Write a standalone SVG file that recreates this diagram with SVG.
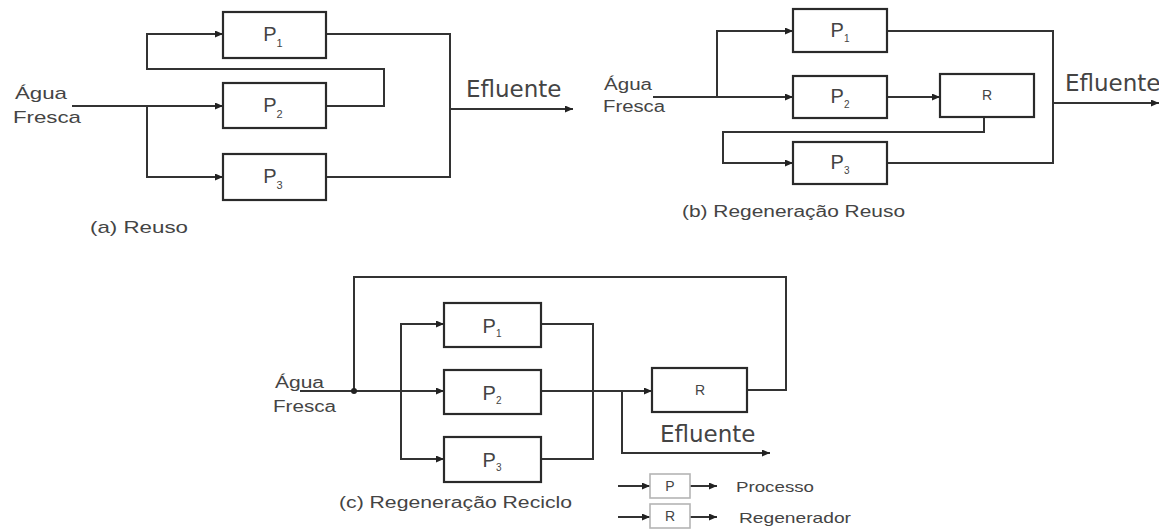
<svg xmlns="http://www.w3.org/2000/svg" width="1159" height="529" viewBox="0 0 1159 529">
<style>
.bg{fill:#fff}
.box{fill:#fff;stroke:#2a2a2a;stroke-width:2.2}
.lbox{fill:#fff;stroke:#b5b5b5;stroke-width:1.6}
.ln{fill:none;stroke:#333;stroke-width:2}
.ar{marker-end:url(#ah)}
.t{font-family:"Liberation Sans",Arial,sans-serif;fill:#444}
.ef{font-family:"DejaVu Sans",Verdana,sans-serif;font-size:23px;fill:#444}
.p{font-family:"Liberation Sans",Arial,sans-serif;font-size:20px;fill:#444;text-anchor:middle}
.r{font-family:"Liberation Sans",Arial,sans-serif;font-size:14px;fill:#444;text-anchor:middle}
</style>
<defs>
<marker id="ah" markerUnits="userSpaceOnUse" markerWidth="9" markerHeight="8" refX="8" refY="3.5" orient="auto">
<path d="M0,0 L8,3.5 L0,7 z" fill="#222"/>
</marker>
</defs>
<rect class="bg" x="0" y="0" width="1159" height="529"/>

<g id="connectors">
<!-- (a) -->
<path class="ln ar" d="M72,106 H223"/>
<path class="ln ar" d="M147,106 V177 H223"/>
<path class="ln ar" d="M326,106 H384 V69 H147 V34 H223"/>
<path class="ln" d="M326,34 H450 V177 H326"/>
<path class="ln ar" d="M450,109 H573"/>
<!-- (b) -->
<path class="ln ar" d="M653,97 H793"/>
<path class="ln ar" d="M717,97 V31 H793"/>
<path class="ln ar" d="M887,97 H940"/>
<path class="ln ar" d="M984,117 V132 H723 V163 H793"/>
<path class="ln" d="M887,31 H1053 V163 H887"/>
<path class="ln ar" d="M1053,103 H1159"/>
<!-- (c) -->
<path class="ln ar" d="M300,391 H444"/>
<path class="ln" d="M747,390 H786 V277 H354 V391"/>
<circle cx="354" cy="391" r="3" fill="#222"/>
<path class="ln ar" d="M401,391 V324 H444"/>
<path class="ln ar" d="M401,391 V459 H444"/>
<path class="ln" d="M541,324 H593 V459 H541"/>
<path class="ln ar" d="M541,391 H652"/>
<path class="ln ar" d="M622,391 V453 H770"/>
<!-- legend -->
<path class="ln ar" d="M618,486 H650"/>
<path class="ln ar" d="M690,486 H717"/>
<path class="ln ar" d="M618,517 H650"/>
<path class="ln ar" d="M690,517 H717"/>
</g>

<!-- (a) Reuso -->
<g id="a-labels">
<text class="t" x="15" y="99" font-size="17" textLength="52" lengthAdjust="spacingAndGlyphs">Água</text>
<text class="t" x="13" y="123" font-size="17" textLength="68" lengthAdjust="spacingAndGlyphs">Fresca</text>
<text class="ef" x="466" y="97">Efluente</text>
<text class="t" x="90" y="233" font-size="17" textLength="98" lengthAdjust="spacingAndGlyphs">(a) Reuso</text>
</g>
<g id="a-P1"><rect class="box" x="223" y="12" width="103" height="46"/><text class="p" x="273" y="41">P<tspan font-size="11" dy="6">1</tspan></text></g>
<g id="a-P2"><rect class="box" x="223" y="83" width="103" height="45"/><text class="p" x="273" y="112">P<tspan font-size="11" dy="6">2</tspan></text></g>
<g id="a-P3"><rect class="box" x="223" y="154" width="103" height="46"/><text class="p" x="273" y="183">P<tspan font-size="11" dy="6">3</tspan></text></g>

<!-- (b) Regeneração Reuso -->
<g id="b-labels">
<text class="t" x="604" y="90" font-size="16" textLength="48" lengthAdjust="spacingAndGlyphs">Água</text>
<text class="t" x="603" y="112" font-size="16" textLength="62" lengthAdjust="spacingAndGlyphs">Fresca</text>
<text class="ef" x="1065" y="91">Efluente</text>
<text class="t" x="682" y="217" font-size="16" textLength="223" lengthAdjust="spacingAndGlyphs">(b) Regeneração Reuso</text>
</g>
<g id="b-P1"><rect class="box" x="793" y="9" width="94" height="43"/><text class="p" x="840" y="37" font-size="19">P<tspan font-size="10" dy="5">1</tspan></text></g>
<g id="b-P2"><rect class="box" x="793" y="76" width="94" height="42"/><text class="p" x="840" y="103" font-size="19">P<tspan font-size="10" dy="5">2</tspan></text></g>
<g id="b-P3"><rect class="box" x="793" y="142" width="94" height="42"/><text class="p" x="840" y="169" font-size="19">P<tspan font-size="10" dy="5">3</tspan></text></g>
<g id="b-R"><rect class="box" x="940" y="74" width="94" height="43"/><text class="r" x="987" y="100">R</text></g>

<!-- (c) Regeneração Reciclo -->
<g id="c-labels">
<text class="t" x="275" y="388" font-size="16" textLength="49" lengthAdjust="spacingAndGlyphs">Água</text>
<text class="t" x="273" y="412" font-size="16" textLength="63" lengthAdjust="spacingAndGlyphs">Fresca</text>
<text class="ef" x="660" y="442">Efluente</text>
<text class="t" x="339" y="508" font-size="16" textLength="233" lengthAdjust="spacingAndGlyphs">(c) Regeneração Reciclo</text>
</g>
<g id="c-P1"><rect class="box" x="444" y="303" width="97" height="44"/><text class="p" x="492" y="333" font-size="19">P<tspan font-size="10" dy="4">1</tspan></text></g>
<g id="c-P2"><rect class="box" x="444" y="370" width="97" height="44"/><text class="p" x="492" y="400" font-size="19">P<tspan font-size="10" dy="4">2</tspan></text></g>
<g id="c-P3"><rect class="box" x="444" y="437" width="97" height="45"/><text class="p" x="492" y="467" font-size="19">P<tspan font-size="10" dy="4">3</tspan></text></g>
<g id="c-R"><rect class="box" x="652" y="368" width="95" height="44"/><text class="r" x="700" y="395">R</text></g>

<!-- legend -->
<g id="legend-P"><rect class="lbox" x="650" y="474" width="40" height="24"/><text class="r" x="670" y="491" font-size="11">P</text><text class="t" x="736" y="492" font-size="15" textLength="78" lengthAdjust="spacingAndGlyphs">Processo</text></g>
<g id="legend-R"><rect class="lbox" x="650" y="504" width="40" height="24"/><text class="r" x="670" y="521" font-size="11">R</text><text class="t" x="739" y="523" font-size="15" textLength="112" lengthAdjust="spacingAndGlyphs">Regenerador</text></g>
</svg>
